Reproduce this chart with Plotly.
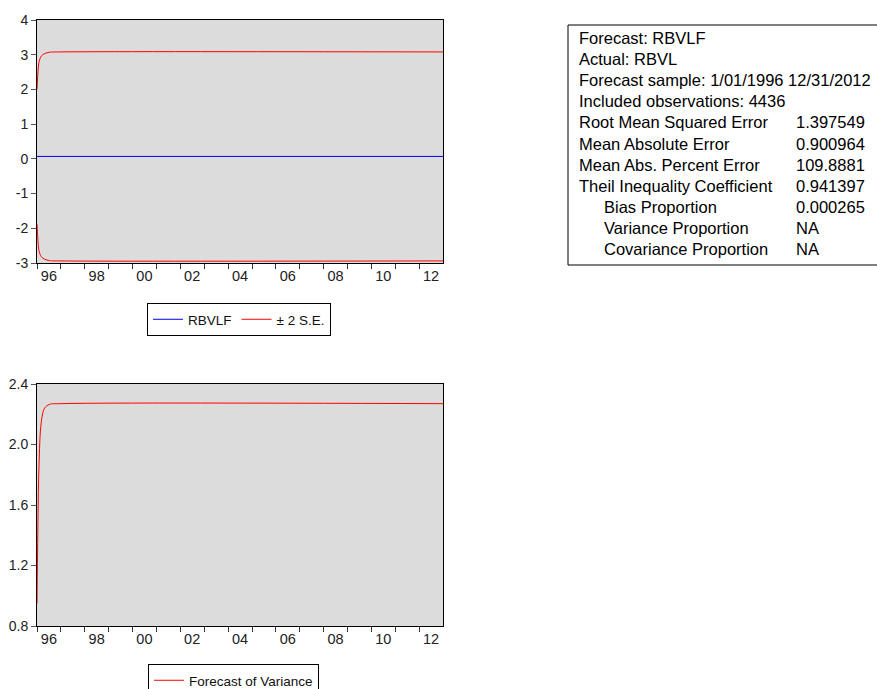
import plotly.graph_objects as go

# ---------------- data ----------------
dates = ["1996-01-01", "1996-01-16", "1996-01-31", "1996-03-07",
         "1996-04-26", "1996-07-09", "1997-01-01", "2012-12-31"]
rbvlf = [0.07, 0.07, 0.07, 0.07, 0.07, 0.07, 0.07, 0.07]
upper_se = [2.0, 2.5, 2.78, 2.96, 3.03, 3.07, 3.08, 3.08]
lower_se = [-1.88, -2.36, -2.64, -2.82, -2.89, -2.93, -2.94, -2.94]
variance = [0.95, 1.5, 1.85, 2.15, 2.24, 2.265, 2.27, 2.27]

year_ticks = ["1996-07-01", "1998-07-01", "2000-07-01", "2002-07-01", "2004-07-01",
              "2006-07-01", "2008-07-01", "2010-07-01", "2012-07-01"]
year_labels = ["96", "98", "00", "02", "04", "06", "08", "10", "12"]

top_yticks = [-3, -2, -1, 0, 1, 2, 3, 4]
top_ylabels = ["-3", "-2", "-1", "0", "1", "2", "3", "4"]
bot_yticks = [0.8, 1.2, 1.6, 2.0, 2.4]
bot_ylabels = ["0.8", "1.2", "1.6", "2.0", "2.4"]

stat_labels = ["Forecast: RBVLF", "Actual: RBVL",
               "Forecast sample: 1/01/1996 12/31/2012",
               "Included observations: 4436",
               "Root Mean Squared Error", "Mean Absolute Error",
               "Mean Abs. Percent Error", "Theil Inequality Coefficient",
               "Bias Proportion", "Variance Proportion", "Covariance Proportion"]
stat_values = ["", "", "", "", "1.397549", "0.900964", "109.8881", "0.941397",
               "0.000265", "NA", "NA"]
stat_indent = [False] * 8 + [True] * 3

# ---------------- figure ----------------
W, H = 877, 689
def px(x):
    return x / W
def py(y):
    return 1 - y / H

FONT = "Liberation Sans, Arial, sans-serif"

fig = go.Figure()
fig.add_trace(go.Scatter(x=dates, y=rbvlf, mode="lines", name="RBVLF",
                         line=dict(color="#0000FF", width=1),
                         xaxis="x", yaxis="y", legend="legend"))
fig.add_trace(go.Scatter(x=dates, y=upper_se, mode="lines", name="± 2 S.E.",
                         line=dict(color="#FF0000", width=1, shape="spline"),
                         xaxis="x", yaxis="y", legend="legend"))
fig.add_trace(go.Scatter(x=dates, y=lower_se, mode="lines", name="lower",
                         line=dict(color="#FF0000", width=1, shape="spline"),
                         showlegend=False, xaxis="x", yaxis="y"))
fig.add_trace(go.Scatter(x=dates, y=variance, mode="lines", name="Forecast of Variance",
                         line=dict(color="#FF0000", width=1, shape="spline"),
                         xaxis="x2", yaxis="y2", legend="legend2"))

xcommon = dict(type="date", range=["1996-01-01", "2012-12-31"],
               tickvals=year_ticks, ticktext=year_labels, ticks="",
               minor=dict(ticks="outside", ticklen=5, tickcolor="#333",
                          dtick="M12", tick0="1996-01-01"),
               showgrid=False, zeroline=False, showline=True, linecolor="#000",
               linewidth=1, mirror=True,
               tickfont=dict(family=FONT, size=14.5, color="#222"))
ycommon = dict(showgrid=False, zeroline=False, showline=True, linecolor="#000",
               linewidth=1, mirror=True, ticks="outside", ticklen=5,
               tickcolor="#555", tickfont=dict(family=FONT, size=14, color="#222"))

top_dom = [py(263), py(20)]
bot_dom = [py(626), py(384)]
xdom = [px(37), px(443)]

fig.update_layout(
    width=W, height=H,
    margin=dict(l=0, r=0, t=0, b=0, autoexpand=False),
    paper_bgcolor="white", plot_bgcolor="#DCDCDC",
    xaxis=dict(domain=xdom, anchor="y", **xcommon),
    yaxis=dict(domain=top_dom, anchor="x", range=[-3, 4], tickvals=top_yticks,
               ticktext=top_ylabels, **ycommon),
    xaxis2=dict(domain=xdom, anchor="y2", **xcommon),
    yaxis2=dict(domain=bot_dom, anchor="x2", range=[0.8, 2.4], tickvals=bot_yticks,
                ticktext=bot_ylabels, **ycommon),
    legend=dict(orientation="h", x=px(147), y=py(303), xanchor="left", yanchor="top",
                bordercolor="#000", borderwidth=1, bgcolor="white",
                font=dict(family=FONT, size=13.5, color="#111"), itemwidth=30),
    legend2=dict(orientation="h", x=px(148), y=py(664), xanchor="left", yanchor="top",
                 bordercolor="#000", borderwidth=1, bgcolor="white",
                 font=dict(family=FONT, size=13.5, color="#111"), itemwidth=30),
    showlegend=True,
)

# stats table box
fig.add_shape(type="rect", xref="paper", yref="paper",
              x0=px(568), x1=px(890), y0=py(265), y1=py(25),
              line=dict(color="#000", width=1), fillcolor="white")

for i, (lab, val, ind) in enumerate(zip(stat_labels, stat_values, stat_indent)):
    yy = py(38 + i * 21.1)
    fig.add_annotation(xref="paper", yref="paper", x=px(602 if ind else 577), y=yy,
                       xanchor="left", yanchor="middle", showarrow=False, text=lab,
                       font=dict(family=FONT, size=16.5, color="#000"))
    if val:
        fig.add_annotation(xref="paper", yref="paper", x=px(794), y=yy,
                           xanchor="left", yanchor="middle", showarrow=False, text=val,
                           font=dict(family=FONT, size=16.5, color="#000"))

fig.write_html("out.html", config={"displayModeBar": False},
               post_script="document.body.style.margin='0px';document.body.style.overflow='hidden';")
